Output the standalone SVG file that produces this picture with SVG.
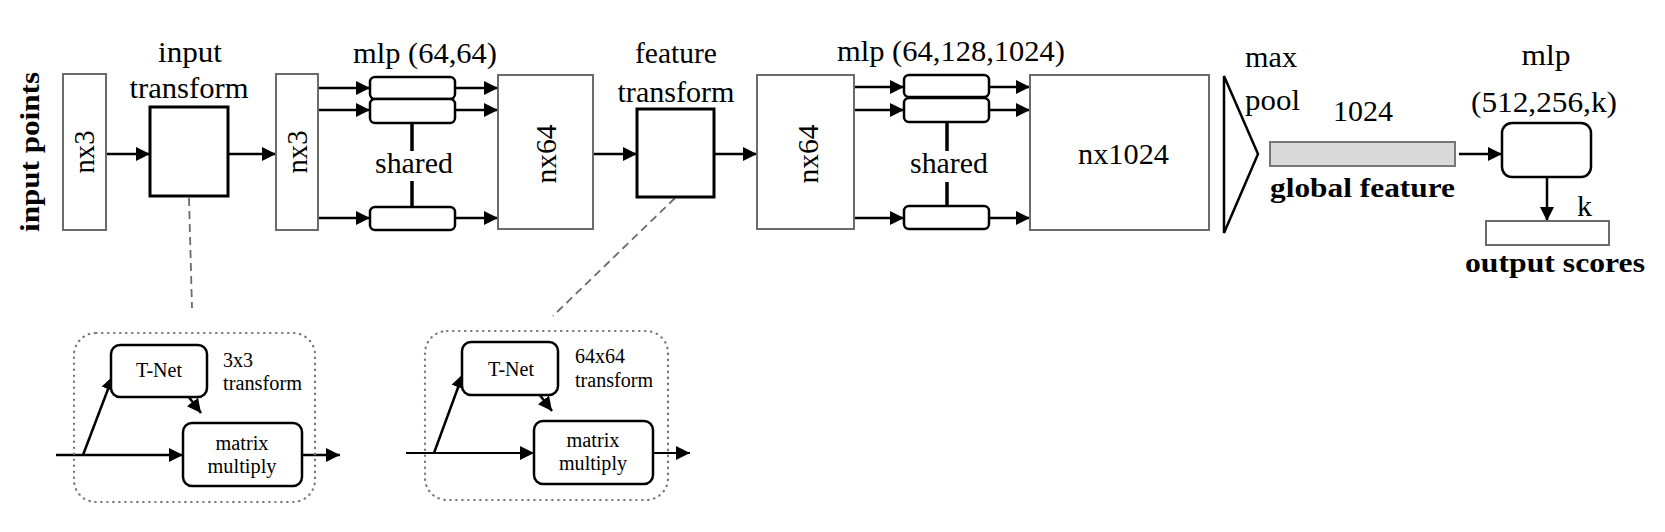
<svg xmlns="http://www.w3.org/2000/svg" width="1665" height="532" viewBox="0 0 1665 532">
<defs>
<style>
.t{font-family:"Liberation Serif","Times New Roman",serif;font-size:29px;fill:#000}
.b{font-weight:bold;font-size:28px}
.s{font-size:20px}
.m{text-anchor:middle}
.gbox{fill:#fff;stroke:#6b6b6b;stroke-width:2}
.kbox{fill:#fff;stroke:#000;stroke-width:3}
.rbox{fill:#fff;stroke:#000;stroke-width:2.5}
.arr{stroke:#000;stroke-width:2.5;fill:none;marker-end:url(#ah)}
.thin{stroke-width:1.8}
.ln{stroke:#000;stroke-width:3.5;fill:none}
.dash{stroke:#6b6b6b;stroke-width:1.8;fill:none;stroke-dasharray:8 5}
.dot{fill:none;stroke:#777;stroke-width:2.2;stroke-dasharray:0.5 5.5;stroke-linecap:round}
</style>
<marker id="ah" markerUnits="userSpaceOnUse" markerWidth="15" markerHeight="15" refX="14" refY="7" orient="auto">
<path d="M0,0 L14,7 L0,14 Z" fill="#000"/>
</marker>
</defs>
<rect width="1665" height="532" fill="#fff"/>

<g id="connectors">
<line class="arr" x1="106" y1="154" x2="150" y2="154"/>
<line class="arr" x1="228" y1="154" x2="276" y2="154"/>
<line class="arr" x1="318" y1="88" x2="370" y2="88"/>
<line class="arr" x1="318" y1="110" x2="370" y2="110"/>
<line class="arr" x1="318" y1="218" x2="370" y2="218"/>
<line class="arr" x1="455" y1="88" x2="498" y2="88"/>
<line class="arr" x1="455" y1="110" x2="498" y2="110"/>
<line class="arr" x1="455" y1="218" x2="498" y2="218"/>
<line class="ln" x1="412" y1="123" x2="412" y2="151"/>
<line class="ln" x1="412" y1="181" x2="412" y2="207"/>
<line class="arr" x1="593" y1="154" x2="637" y2="154"/>
<line class="arr" x1="714" y1="154" x2="757" y2="154"/>
<line class="arr" x1="854" y1="87" x2="904" y2="87"/>
<line class="arr" x1="854" y1="110" x2="904" y2="110"/>
<line class="arr" x1="854" y1="218" x2="904" y2="218"/>
<line class="arr" x1="989" y1="87" x2="1030" y2="87"/>
<line class="arr" x1="989" y1="110" x2="1030" y2="110"/>
<line class="arr" x1="989" y1="218" x2="1030" y2="218"/>
<line class="ln" x1="947" y1="122" x2="947" y2="151"/>
<line class="ln" x1="947" y1="182" x2="947" y2="206"/>
<line class="arr" x1="1459" y1="154" x2="1502" y2="154"/>
<line class="arr" x1="1547" y1="177" x2="1547" y2="221"/>
<line class="dash" x1="189" y1="198" x2="192" y2="308"/>
<line class="dash" x1="675" y1="198" x2="553" y2="316"/>
<!-- subfigure 1 -->
<line class="arr" x1="56" y1="455" x2="183" y2="455"/>
<line class="arr" x1="83" y1="455" x2="113" y2="376"/>
<line class="arr" x1="188" y1="396" x2="201" y2="413"/>
<line class="arr" x1="302" y1="455" x2="340" y2="455"/>
<!-- subfigure 2 -->
<line class="arr thin" x1="406" y1="453" x2="534" y2="453"/>
<line class="arr" x1="434" y1="453" x2="463" y2="374"/>
<line class="arr" x1="539" y1="394" x2="552" y2="411"/>
<line class="arr thin" x1="653" y1="453" x2="690" y2="453"/>
</g>

<g id="label-input-points">
<text class="t b m" transform="translate(39,152) rotate(-90)" textLength="160" lengthAdjust="spacingAndGlyphs">input points</text>
</g>

<g id="node-nx3-a">
<rect class="gbox" x="63" y="74" width="43" height="156"/>
<text class="t m" transform="translate(94,152) rotate(-90)" textLength="43" lengthAdjust="spacingAndGlyphs">nx3</text>
</g>

<g id="node-input-transform">
<text class="t m" x="190" y="62" textLength="64" lengthAdjust="spacingAndGlyphs">input</text>
<text class="t m" x="189" y="98" textLength="119" lengthAdjust="spacingAndGlyphs">transform</text>
<rect class="kbox" x="150" y="107" width="78" height="89"/>
</g>

<g id="node-nx3-b">
<rect class="gbox" x="276" y="74" width="42" height="156"/>
<text class="t m" transform="translate(307,152) rotate(-90)" textLength="43" lengthAdjust="spacingAndGlyphs">nx3</text>
</g>

<g id="node-mlp-64-64">
<text class="t m" x="425" y="63" textLength="144" lengthAdjust="spacingAndGlyphs">mlp (64,64)</text>
<rect class="rbox" x="370" y="77" width="85" height="22" rx="5"/>
<rect class="rbox" x="370" y="99" width="85" height="24" rx="5"/>
<rect class="rbox" x="370" y="207" width="85" height="23" rx="5"/>
<text class="t m" x="414" y="173" textLength="78" lengthAdjust="spacingAndGlyphs">shared</text>
</g>

<g id="node-nx64-a">
<rect class="gbox" x="498" y="75" width="95" height="154"/>
<text class="t m" transform="translate(556,154) rotate(-90)" textLength="59" lengthAdjust="spacingAndGlyphs">nx64</text>
</g>

<g id="node-feature-transform">
<text class="t m" x="676" y="63" textLength="82" lengthAdjust="spacingAndGlyphs">feature</text>
<text class="t m" x="676" y="102" textLength="117" lengthAdjust="spacingAndGlyphs">transform</text>
<rect class="kbox" x="637" y="109" width="77" height="88"/>
</g>

<g id="node-nx64-b">
<rect class="gbox" x="757" y="75" width="97" height="154"/>
<text class="t m" transform="translate(818,154) rotate(-90)" textLength="59" lengthAdjust="spacingAndGlyphs">nx64</text>
</g>

<g id="node-mlp-64-128-1024">
<text class="t m" x="951" y="61" textLength="228" lengthAdjust="spacingAndGlyphs">mlp (64,128,1024)</text>
<rect class="rbox" x="904" y="75" width="85" height="22" rx="5"/>
<rect class="rbox" x="904" y="98" width="85" height="24" rx="5"/>
<rect class="rbox" x="904" y="206" width="85" height="23" rx="5"/>
<text class="t m" x="949" y="173" textLength="78" lengthAdjust="spacingAndGlyphs">shared</text>
</g>

<g id="node-nx1024">
<rect class="gbox" x="1030" y="75" width="179" height="155"/>
<text class="t" x="1078" y="164" textLength="91" lengthAdjust="spacingAndGlyphs">nx1024</text>
</g>

<g id="node-max-pool">
<polygon points="1224,76 1258,154 1224,233" fill="#fff" stroke="#000" stroke-width="2.5" stroke-linejoin="miter"/>
<text class="t" x="1245" y="67" textLength="52" lengthAdjust="spacingAndGlyphs">max</text>
<text class="t" x="1245" y="110" textLength="55" lengthAdjust="spacingAndGlyphs">pool</text>
</g>

<g id="node-global-feature">
<text class="t m" x="1363" y="121" textLength="60" lengthAdjust="spacingAndGlyphs">1024</text>
<rect x="1270" y="142" width="185" height="24" fill="#d9d9d9" stroke="#777" stroke-width="2"/>
<text class="t b" x="1270" y="197" textLength="185" lengthAdjust="spacingAndGlyphs">global feature</text>
</g>

<g id="node-mlp-512-256-k">
<text class="t m" x="1546" y="65" textLength="49" lengthAdjust="spacingAndGlyphs">mlp</text>
<text class="t m" x="1544" y="112" textLength="146" lengthAdjust="spacingAndGlyphs">(512,256,k)</text>
<rect class="rbox" x="1502" y="123" width="89" height="54" rx="10"/>
</g>

<g id="node-output-scores">
<text class="t" x="1577" y="216" textLength="15" lengthAdjust="spacingAndGlyphs">k</text>
<rect x="1486" y="221" width="123" height="24" fill="#fff" stroke="#6b6b6b" stroke-width="2"/>
<text class="t b" x="1465" y="272" textLength="180" lengthAdjust="spacingAndGlyphs">output scores</text>
</g>

<g id="subfig-input-transform">
<rect class="dot" x="74" y="333" width="241" height="169" rx="22"/>
<rect class="rbox" x="111" y="345" width="96" height="52" rx="9"/>
<text class="t s m" x="159" y="377" textLength="46" lengthAdjust="spacingAndGlyphs">T-Net</text>
<text class="t s" x="223" y="367" textLength="30" lengthAdjust="spacingAndGlyphs">3x3</text>
<text class="t s" x="223" y="390" textLength="79" lengthAdjust="spacingAndGlyphs">transform</text>
<rect class="rbox" x="183" y="423" width="119" height="63" rx="9"/>
<text class="t s m" x="242" y="450" textLength="53" lengthAdjust="spacingAndGlyphs">matrix</text>
<text class="t s m" x="242" y="473" textLength="69" lengthAdjust="spacingAndGlyphs">multiply</text>
</g>

<g id="subfig-feature-transform">
<rect class="dot" x="425" y="331" width="243" height="169" rx="22"/>
<rect class="rbox" x="462" y="342" width="96" height="53" rx="9"/>
<text class="t s m" x="511" y="376" textLength="46" lengthAdjust="spacingAndGlyphs">T-Net</text>
<text class="t s" x="575" y="363" textLength="50" lengthAdjust="spacingAndGlyphs">64x64</text>
<text class="t s" x="575" y="387" textLength="78" lengthAdjust="spacingAndGlyphs">transform</text>
<rect class="rbox" x="534" y="421" width="119" height="63" rx="9"/>
<text class="t s m" x="593" y="447" textLength="53" lengthAdjust="spacingAndGlyphs">matrix</text>
<text class="t s m" x="593" y="470" textLength="68" lengthAdjust="spacingAndGlyphs">multiply</text>
</g>
</svg>
